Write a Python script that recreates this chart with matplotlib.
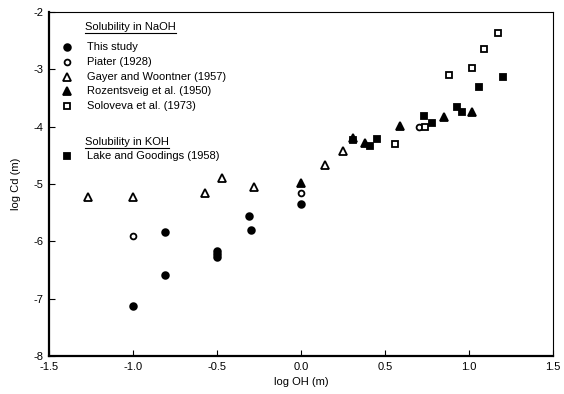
import matplotlib
matplotlib.use('Agg')
import matplotlib.pyplot as plt

plt.rcParams['font.family'] = ['Liberation Sans', 'DejaVu Sans']

# log OH (m), log Cd (m) for each data set
this_study_x = [-1.0, -0.81, -0.81, -0.50, -0.50, -0.50, -0.31, -0.30, 0.0]
this_study_y = [-7.13, -5.84, -6.59, -6.17, -6.22, -6.27, -5.55, -5.81, -5.34]

piater_x = [-1.0, 0.0, 0.70]
piater_y = [-5.90, -5.16, -4.01]

gayer_x = [-1.27, -1.0, -0.57, -0.47, -0.28, 0.14, 0.25]
gayer_y = [-5.23, -5.23, -5.15, -4.90, -5.06, -4.67, -4.42]

rozen_x = [0.0, 0.31, 0.38, 0.59, 0.85, 1.02]
rozen_y = [-4.99, -4.19, -4.29, -3.99, -3.83, -3.75]

solov_x = [0.56, 0.74, 0.88, 1.02, 1.09, 1.17]
solov_y = [-4.30, -4.01, -3.10, -2.97, -2.64, -2.36]

lake_x = [0.31, 0.41, 0.45, 0.73, 0.78, 0.93, 0.96, 1.06, 1.20]
lake_y = [-4.24, -4.34, -4.22, -3.82, -3.93, -3.65, -3.74, -3.30, -3.14]

x_ticks = [-1.5, -1.0, -0.5, 0.0, 0.5, 1.0, 1.5]
y_ticks = [-8, -7, -6, -5, -4, -3, -2]

fig = plt.figure(figsize=(5.64, 3.94), dpi=100)
ax = fig.add_axes([0.087, 0.0964, 0.8935, 0.8731])

styles = [
    (this_study_x, this_study_y, 'o', 'black', 4.8, 'This study'),
    (piater_x, piater_y, 'o', 'white', 4.2, 'Piater (1928)'),
    (gayer_x, gayer_y, '^', 'white', 5.4, 'Gayer and Woontner (1957)'),
    (rozen_x, rozen_y, '^', 'black', 5.8, 'Rozentsveig et al. (1950)'),
    (solov_x, solov_y, 's', 'white', 4.2, 'Soloveva et al. (1973)'),
    (lake_x, lake_y, 's', 'black', 4.6, 'Lake and Goodings (1958)'),
]

for xs, ys, mk, fc, ms, lab in styles:
    ax.plot(xs, ys, linestyle='none', marker=mk, markerfacecolor=fc,
            markeredgecolor='black', markeredgewidth=1.3, markersize=ms)

# hand-made legend with underlined group headings
def heading(y, txt):
    t = ax.text(0.071, y, txt, transform=ax.transAxes, fontsize=8,
                va='center', ha='left')
    fig.canvas.draw()
    bb = t.get_window_extent().transformed(ax.transAxes.inverted())
    ax.plot([bb.x0, bb.x1], [bb.y0 - 0.004, bb.y0 - 0.004], color='black',
            lw=0.8, transform=ax.transAxes, clip_on=False)

def entry(y, style):
    xs, ys, mk, fc, ms, lab = style
    ax.plot([0.036], [y], transform=ax.transAxes, linestyle='none', marker=mk,
            markerfacecolor=fc, markeredgecolor='black', markeredgewidth=1.3,
            markersize=ms)
    ax.text(0.075, y, lab, transform=ax.transAxes, fontsize=8, va='center')

heading(0.957, 'Solubility in NaOH')
rows_y = [0.899, 0.855, 0.812, 0.770, 0.728]
for st, ry in zip(styles[:5], rows_y):
    entry(ry, st)

heading(0.623, 'Solubility in KOH')
entry(0.582, styles[5])

ax.set_xlim(-1.5, 1.5)
ax.set_ylim(-8, -2)
ax.set_xticks(x_ticks)
ax.set_xticklabels(['%.1f' % v for v in x_ticks])
ax.set_yticks(y_ticks)
ax.set_yticklabels([str(v) for v in y_ticks])
ax.tick_params(direction='in', length=4, width=0.8, labelsize=8, pad=4)

ax.spines['left'].set_linewidth(1.6)
ax.spines['bottom'].set_linewidth(1.6)
ax.spines['top'].set_linewidth(0.8)
ax.spines['right'].set_linewidth(0.8)

ax.set_xlabel('log OH (m)', fontsize=8, labelpad=4)
ax.set_ylabel('log Cd (m)', fontsize=8, labelpad=9)

plt.savefig('out.png', dpi=100)
